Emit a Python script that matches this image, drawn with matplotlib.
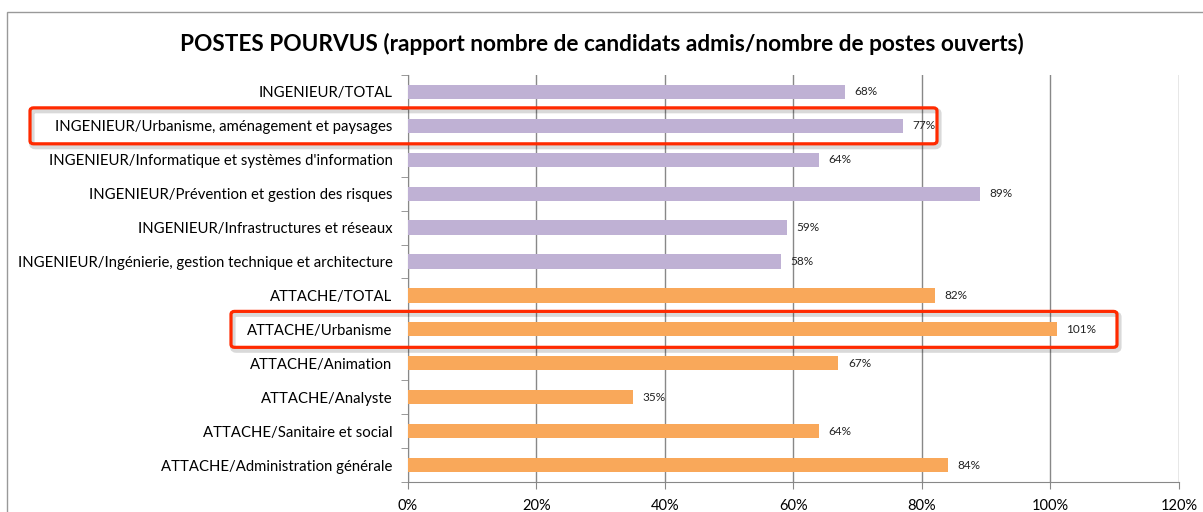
import matplotlib.pyplot as plt
import matplotlib.transforms as mtransforms
from matplotlib.patches import Rectangle, FancyBboxPatch
from matplotlib.ticker import PercentFormatter, FixedLocator

plt.rcParams['font.family'] = ['Lato', 'DejaVu Sans']

categories = [
    "INGENIEUR/TOTAL",
    "INGENIEUR/Urbanisme, aménagement et paysages",
    "INGENIEUR/Informatique et systèmes d'information",
    "INGENIEUR/Prévention et gestion des risques",
    "INGENIEUR/Infrastructures et réseaux",
    "INGENIEUR/Ingénierie, gestion technique et architecture",
    "ATTACHE/TOTAL",
    "ATTACHE/Urbanisme",
    "ATTACHE/Animation",
    "ATTACHE/Analyste",
    "ATTACHE/Sanitaire et social",
    "ATTACHE/Administration générale",
]
values = [68, 77, 64, 89, 59, 58, 82, 101, 67, 35, 64, 84]
groups = ["ING"] * 6 + ["ATT"] * 6
highlighted = ["INGENIEUR/Urbanisme, aménagement et paysages", "ATTACHE/Urbanisme"]

colors = {"ING": "#BFB1D4", "ATT": "#F9A85A"}

fig = plt.figure(figsize=(12.03, 5.12), dpi=100)
ax = fig.add_axes([0.339, 0.0586, 0.641, 0.795])

y = list(range(len(categories)))
ax.barh(y, values, height=0.42, color=[colors[g] for g in groups], zorder=3)
for yi, v in zip(y, values):
    ax.text(v + 1.5, yi, f"{v}%", va="center", ha="left", fontsize=8.5, color="#222222")

ax.set_xlim(0, 120)
ax.set_ylim(len(categories) - 0.5, -0.5)
ax.set_xticks(range(0, 121, 20))
ax.xaxis.set_major_formatter(PercentFormatter(decimals=0))
ax.set_yticks(y)
ax.set_yticklabels(categories, fontsize=10.7)
ax.yaxis.set_minor_locator(FixedLocator([i - 0.5 for i in range(len(categories) + 1)]))
ax.tick_params(axis="y", which="major", length=0, pad=11)
ax.tick_params(axis="y", which="minor", length=5, color="#888888")
ax.tick_params(axis="x", length=5, color="#888888", labelsize=10.5, pad=7)
ax.grid(axis="x", color="#888888", linewidth=1, zorder=0)

for side in ["top", "right"]:
    ax.spines[side].set_visible(False)
ax.spines["left"].set_color("#888888")
ax.spines["bottom"].set_color("#888888")

fig.suptitle("POSTES POURVUS (rapport nombre de candidats admis/nombre de postes ouverts)",
             fontsize=16.3, fontweight="bold", x=0.5, y=0.935)

# outer chart frame
fig.patches.append(Rectangle((7 / 1203, -0.05), 1.2, 1 - 12 / 512 + 0.05,
                             transform=fig.transFigure, fill=False,
                             edgecolor="#999999", linewidth=1))

# red highlight boxes
trans = mtransforms.blended_transform_factory(fig.transFigure, ax.transData)
box_x = {highlighted[0]: (30 / 1203, 937 / 1203), highlighted[1]: (231 / 1203, 1117 / 1203)}
for name in highlighted:
    yi = categories.index(name)
    x0, x1 = box_x[name]
    shadow = FancyBboxPatch((x0 + 0.0015, yi - 0.53 + 0.08), x1 - x0, 1.06,
                            boxstyle="round,pad=0,rounding_size=0.003",
                            transform=trans, fill=False, edgecolor="#000000", alpha=0.15,
                            linewidth=4, clip_on=False, zorder=9, mutation_aspect=30)
    fig.add_artist(shadow)
    box = FancyBboxPatch((x0, yi - 0.53), x1 - x0, 1.06,
                         boxstyle="round,pad=0,rounding_size=0.003",
                         transform=trans, fill=False, edgecolor="#FF2A00",
                         linewidth=2.3, clip_on=False, zorder=10, mutation_aspect=30)
    fig.add_artist(box)

fig.savefig("out.png", dpi=100)
